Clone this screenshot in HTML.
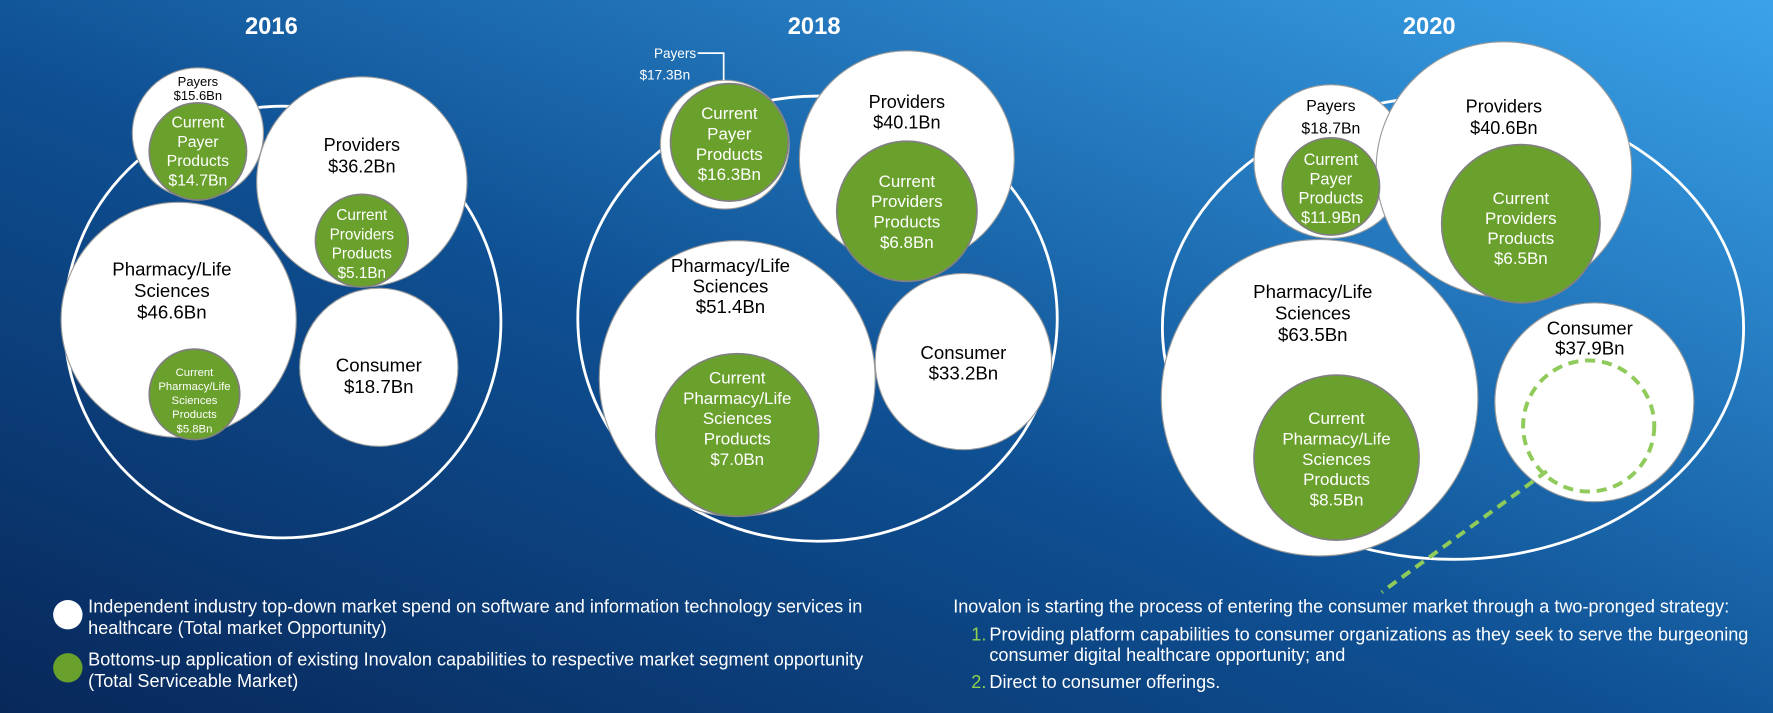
<!DOCTYPE html>
<html><head><meta charset="utf-8"><style>
html,body{margin:0;padding:0;width:1773px;height:713px;overflow:hidden}
svg{display:block}
text{font-family:"Liberation Sans",sans-serif}
</style></head><body>
<svg id="chart" width="1773" height="713" viewBox="0 0 1568 631" preserveAspectRatio="none">
<defs>
<linearGradient id="bg" x1="0" y1="1" x2="1" y2="0">
<stop offset="0" stop-color="#08285a"/><stop offset="0.45" stop-color="#0e4f92"/><stop offset="1" stop-color="#3ba3ea"/>
</linearGradient>
</defs>
<rect width="1568" height="631" fill="url(#bg)"/>
<g id="plots"></g>
<g font-size="16" fill="#fff">
<circle cx="60" cy="544" r="13" fill="#fff"/>
<text x="78" y="542" fill="#fff">Independent industry top-down market spend on software and information technology services in</text>
<text x="78" y="561" fill="#fff">healthcare (Total market Opportunity)</text>
<circle cx="60" cy="591" r="13" fill="#6aa02c"/>
<text x="78" y="589" fill="#fff">Bottoms-up application of existing Inovalon capabilities to respective market segment opportunity</text>
<text x="78" y="608" fill="#fff">(Total Serviceable Market)</text>
</g>
<g font-size="16" fill="#fff">
<text x="843" y="542" fill="#fff">Inovalon is starting the process of entering the consumer market through a two-pronged strategy:</text>
<text x="859" y="567" fill="#8fd14f">1.</text>
<text x="875" y="567" fill="#fff">Providing platform capabilities to consumer organizations as they seek to serve the burgeoning</text>
<text x="875" y="585" fill="#fff">consumer digital healthcare opportunity; and</text>
<text x="859" y="609" fill="#8fd14f">2.</text>
<text x="875" y="609" fill="#fff">Direct to consumer offerings.</text>
</g>
</svg>
<script>
const years = ['2016','2018','2020'];
const segments = ['Payers','Providers','Pharmacy/Life Sciences','Consumer'];
const totalValues = [[15.6,36.2,46.6,18.7],[17.3,40.1,51.4,33.2],[18.7,40.6,63.5,37.9]];
const currentValues = [[14.7,5.1,5.8,null],[16.3,6.8,7.0,null],[11.9,6.5,8.5,null]];
const currentNames = ['Payer','Providers','Pharmacy/Life Sciences',''];

// layout (pixels, not data)
const outerLayout = [[250,285,193,191],[723,282,212,197],[1285,290,257,205]];
const titleX = [240,720,1264];
const whiteLayout = [
 [[175,118,58],[320,161,93],[158,283,104],[335,325,70]],
 [[641,128,57],[802,140,95],[652,335,122],[852,320,78]],
 [[1177,143,68],[1330,150,113],[1167,352,140],[1410,356,88]]];
const labelTop = [[72,128,238,323],[0,90,235,312],[93,94,258,290]];
const labelSize = [[11.5,16,16.5,16.5],[12,16,16.5,16.5],[14,16,16.5,16.5]];
const labelLH = [[12.5,19,19,19],[16,18,18,18],[20,19,19,18]];
const greenLayout = [
 [[175,134,43],[320,213,41],[172,349,40]],
 [[645,126,52],[802,187,62],[652,385,72]],
 [[1177,165,43],[1345,198,70],[1182,405,73]]];
const greenTop = [[108,190,329],[100,160,334],[141,175,370]];
const greenSize = [[14,13.5,10],[15,15,15],[14.5,15,15]];
const greenLH = [[17,17,12.5],[18,18,18],[17,17.7,18]];
const NS='http://www.w3.org/2000/svg';
const root=document.getElementById('plots');
function mk(tag,attrs,parent){const e=document.createElementNS(NS,tag);for(const k in attrs)e.setAttribute(k,attrs[k]);(parent||root).appendChild(e);return e;}
function txt(lines,x,y,size,fill,lh,parent,name){
  lines.forEach((l,i)=>{const t=mk('text',{x:x,y:y+i*lh+size*0.36,'font-size':size,fill:fill,'text-anchor':'middle'},parent);
  
  
  t.textContent=l;});
}
function fmt(v){return '$'+v.toFixed(1)+'Bn';}
years.forEach((yr,yi)=>{
  const g=mk('g',{});
  
  
  const t=mk('text',{x:titleX[yi],y:30,'font-size':21,'font-weight':'bold',fill:'#fff','text-anchor':'middle'},g);
  
  
  t.textContent=yr;
  const o=outerLayout[yi];
  const oe=mk('ellipse',{cx:o[0],cy:o[1],rx:o[2],ry:o[3],fill:'none',stroke:'#fff','stroke-width':2.5},g);
  
  
  segments.forEach((s,si)=>{
    const w=whiteLayout[yi][si];
    const c=mk('circle',{cx:w[0],cy:w[1],r:w[2],fill:'#fff',stroke:'#9a9a9a','stroke-width':1},g);
    
    
  });
  segments.forEach((s,si)=>{
    const w=whiteLayout[yi][si]; const v=totalValues[yi][si];
    const label = si===2 ? ['Pharmacy/Life','Sciences',fmt(v)] : [s,fmt(v)];
    if(yi===1 && si===0){
      txt([s],w[0]-44,w[1]-81,12,'#fff',16,g,'segment-label');
      txt([fmt(v)],w[0]-53,w[1]-62,12,'#fff',16,g,'segment-label');
      const ln=mk('polyline',{points:(w[0]-24)+','+(w[1]-81)+' '+(w[0]-1)+','+(w[1]-81)+' '+(w[0]-1)+','+(w[1]-57),fill:'none',stroke:'#fff','stroke-width':1.5},g);
      
      
    } else {
      const cx = si===2 ? w[0]-6 : (si===3 && yi===2 ? w[0]-4 : w[0]);
      txt(label,cx,labelTop[yi][si],labelSize[yi][si],'#000',labelLH[yi][si],g,'segment-label');
    }
    const cv=currentValues[yi][si];
    if(cv!==null && greenLayout[yi][si]){
      const gl=greenLayout[yi][si];
      const gc=mk('circle',{cx:gl[0],cy:gl[1],r:gl[2],fill:'#6aa02c',stroke:'#808080','stroke-width':1.5},g);
      
      
      let lines = si===2 ? ['Current','Pharmacy/Life','Sciences','Products',fmt(cv)] : ['Current',currentNames[si],'Products',fmt(cv)];
      txt(lines,gl[0],greenTop[yi][si],greenSize[yi][si],'#fff',greenLH[yi][si],g,'current-label');
    }
  });
});
const d1=mk('circle',{cx:1405,cy:377,r:58,fill:'#fff',stroke:'#8fcb5a','stroke-width':3.5,'stroke-dasharray':'9 6'});


const d2=mk('line',{x1:1368,y1:417,x2:1222,y2:524,stroke:'#8fcb5a','stroke-width':3.5,'stroke-dasharray':'9 6'});


</script>
</body></html>
